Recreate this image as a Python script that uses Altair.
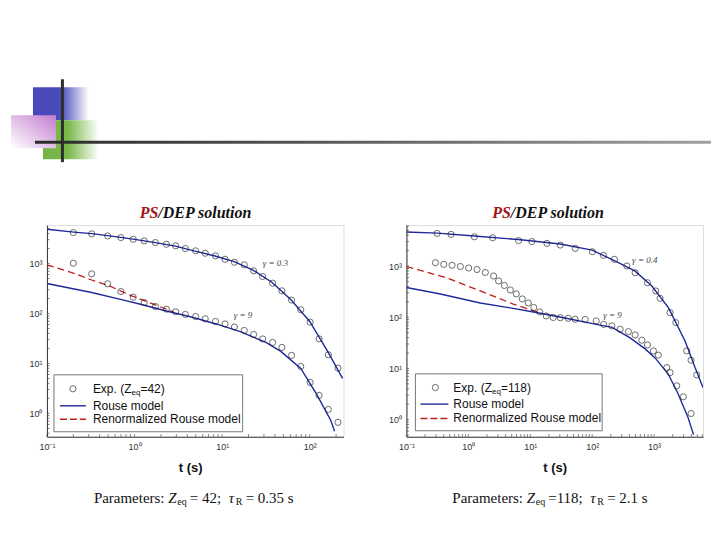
import math
import altair as alt
import pandas as pd

# ---------------- LEFT PANEL (Z_eq = 42) ----------------
L_exp_up_t = [0.2, 0.324, 0.493, 0.698, 0.966, 1.29, 1.73, 2.31, 2.95, 3.80, 4.98, 6.41, 8.40, 10.8,
              13.8, 17.9, 22.9, 29.0, 37.7, 48.1, 62.0, 79.0, 101, 128, 163, 210]
L_exp_up_G = [4170, 3930, 3580, 3311, 3062, 2844, 2630, 2432, 2259, 1995, 1795, 1607, 1426, 1219,
              1062, 942, 714, 550, 404, 284, 185, 119, 67, 31, 14.9, 8.05]
L_exp_lo_t = [0.2, 0.324, 0.493, 0.698, 0.966, 1.29, 1.73, 2.31, 2.95, 3.80, 4.98, 6.41, 8.40, 10.8,
              13.8, 17.9, 22.9, 29.0, 37.7, 48.1, 62.0, 79.0, 101, 128, 163, 210]
L_exp_lo_G = [1014, 622, 393, 275, 212, 166, 138, 122, 108, 95.5, 87, 78.3, 69.2, 61.7,
              53.7, 45.7, 38, 30.9, 26.3, 20.9, 14.5, 8.7, 4.17, 2.29, 1.2, 0.66]
L_rouse_up_t = [0.1, 0.2026, 0.324, 0.493, 0.966, 1.73, 2.93, 4.9, 8.3, 13.7, 22.5, 37.2, 60.7, 100, 160, 237]
L_rouse_up_G = [4853, 4266, 3981, 3631, 3090, 2630, 2239, 1778, 1413, 1096, 741, 417, 191, 69.2, 17.4, 5.0]
L_rouse_lo_t = [0.1, 0.324, 0.711, 1.20, 2.31, 4.45, 8.55, 16.4, 31.6, 46.8, 79, 120, 174, 192]
L_rouse_lo_G = [398, 263, 190, 151, 112, 85.1, 61.7, 42.7, 26.3, 17.4, 7.94, 2.4, 0.72, 0.44]
L_renorm_t = [0.1, 0.192, 0.324, 0.506, 0.923, 1.56, 2.78]
L_renorm_G = [942, 661, 468, 363, 226, 159, 108]

# ---------------- RIGHT PANEL (Z_eq = 118) ----------------
R_exp_up_t = [0.313, 0.526, 1.25, 2.47, 6.47, 10.6, 18.6, 30.5, 53.2, 101, 152, 229, 363, 494, 780,
              1064, 1250, 1811, 2239, 3367, 3954, 4887]
R_exp_up_G = [4335, 4150, 3724, 3562, 3141, 3006, 2768, 2566, 2212, 1901, 1618, 1352, 1000, 740, 472,
              326, 234, 123, 78.5, 22, 14.5, 7.5]
R_exp_lo_t = [0.294, 0.400, 0.546, 0.743, 1.01, 1.38, 1.88, 2.56, 3.08, 3.81, 4.76, 5.94, 7.43, 9.29,
              11.4, 14.2, 18.1, 23.5, 30.5, 41, 53.2, 77.1, 116, 153, 208, 283, 385, 494, 634, 780,
              975, 1172, 1603, 1811, 2323, 2970, 3954]
R_exp_lo_G = [1160, 1079, 1032, 978, 914, 855, 747, 638, 511, 417, 341, 285, 228, 190,
              155, 127, 106, 99, 98, 95.5, 91.4, 90.6, 84.7, 72.4, 67.7, 58.3, 52.4, 45.2, 35.6, 28.8,
              22, 18.2, 10.4, 8.3, 4.58, 2.8, 1.32]
R_rouse_up_t = [0.1, 0.316, 1.25, 6.4, 30.5, 100, 265, 494, 918, 1702, 3162, 4583, 6166]
R_rouse_up_G = [4605, 4395, 3847, 3289, 2685, 2051, 1160, 795, 407, 154, 34.5, 10.4, 4.25]
R_rouse_lo_t = [0.1, 0.353, 1.56, 4.76, 12.5, 38.1, 116, 210, 410, 716, 1038, 1683, 2438, 3532, 4335]
R_rouse_lo_G = [381, 284, 190, 152, 124, 95.7, 72.4, 63.3, 39.4, 24.1, 16.1, 7.86, 3.2, 1.1, 0.51]
R_renorm_t = [0.1, 0.458, 1.56, 5.32, 14.5]
R_renorm_G = [978, 583, 326, 181, 121]

# axis ticks / labels
L_xticks = [0.1, 1, 10, 100]
L_xlabels = ["10⁻¹", "10⁰", "10¹", "10²"]
R_xticks = [0.1, 1, 10, 100, 1000]
R_xlabels = ["10⁻¹", "10⁰", "10¹", "10²", "10³"]
yticks = [1, 10, 100, 1000]
ylabels = ["10⁰", "10¹", "10²", "10³"]

BLUE = "#1f2a9c"
RED = "#c01f1f"
SANS = "Liberation Sans"
SERIF = "Liberation Serif"
ONE = pd.DataFrame({"k": [0]})


def label_expr(ticks, labels):
    s = ""
    for v, lab in zip(ticks, labels):
        s += f"datum.value < {v * 3} ? '{lab}' : "
    return s + "''"


def minor_vals(lo, hi):
    out = []
    for d in range(math.floor(math.log10(lo)) - 1, math.ceil(math.log10(hi)) + 1):
        for k in range(1, 10):
            v = k * 10 ** d
            if lo * 0.999 <= v <= hi * 1.001:
                out.append((v, k == 1))
    return out


def txt(x, y, s, size, font=SANS, color="#111", style="normal", weight="normal", align="left"):
    return alt.Chart(ONE).mark_text(text=s, fontSize=size, font=font, color=color, fontStyle=style,
                                    fontWeight=weight, align=align, baseline="middle").encode(
        x=alt.value(x), y=alt.value(y))


def rect(x, x2, y, y2, fill, stroke=None):
    kw = dict(fill=fill)
    if stroke:
        kw.update(stroke=stroke, strokeWidth=1)
    else:
        kw.update(strokeWidth=0)
    return alt.Chart(ONE).mark_rect(**kw).encode(x=alt.value(x), x2=alt.value(x2), y=alt.value(y), y2=alt.value(y2))


def grad(stops, x1, y1, x2, y2):
    return alt.LinearGradient(gradient="linear",
                              stops=[alt.GradientStop(offset=o, color=c) for o, c in stops],
                              x1=x1, y1=y1, x2=x2, y2=y2)


def lines_df(sets):
    rows = []
    for name, ts, gs in sets:
        for t, g in zip(ts, gs):
            rows.append({"t": t, "G": g, "branch": name})
    return pd.DataFrame(rows)


def panel(W, H, xdom, ydom, xt, xl, exp_sets, rouse_sets, renorm, gam, leg, zval, params, tlab_x, deco=False):
    xs = alt.Scale(type="log", domain=xdom, nice=False)
    ys = alt.Scale(type="log", domain=ydom, nice=False)
    xax = alt.Axis(values=xt, labelExpr=label_expr(xt, xl), ticks=False, grid=False, title=None,
                   labelFont=SANS, labelFontSize=9, labelColor="#333", domainColor="#333",
                   labelPadding=6, labelFlush=False)
    yax = alt.Axis(values=yticks, labelExpr=label_expr(yticks, ylabels), ticks=False, grid=False,
                   title=None, labelFont=SANS, labelFontSize=9, labelColor="#333", domainColor="#333",
                   labelPadding=5)
    X = alt.X("t:Q", scale=xs, axis=xax)
    Y = alt.Y("G:Q", scale=ys, axis=yax)

    layers = []
    if deco:
        layers += [
            rect(-14, 42, -138, -105, grad([(0, "#4848b8"), (0.5, "#4a4cbc"), (1, "#ffffff")], 0, 0, 1, 0)),
            rect(-4, 52, -105, -66, grad([(0, "#74b446"), (0.45, "#7ab84c"), (1, "#ffffff")], 0, 0, 1, 0)),
            rect(-36, 9, -110, -77, grad([(0, "#ffffff"), (1, "#c27ccf")], 0, 1, 1, 0)),
            rect(14, 17, -146, -63, "#2d2d2d"),
            rect(-12, 665, -84.5, -81.5, grad([(0, "#2a2a2a"), (0.4, "#555555"), (1, "#a0a0a0")], 0, 0, 1, 0)),
        ]

    # minor / major ticks (inside)
    xm = pd.DataFrame([{"t": v, "maj": m} for v, m in minor_vals(*xdom)])
    ym = pd.DataFrame([{"G": v, "maj": m} for v, m in minor_vals(*ydom)])
    layers.append(alt.Chart(xm).mark_rule(color="#555", strokeWidth=0.8).encode(
        x=X, y=alt.value(H), y2=alt.value(H - 2.5)))
    layers.append(alt.Chart(ym).mark_rule(color="#555", strokeWidth=0.8).encode(
        y=Y, x=alt.value(0), x2=alt.value(2.5)))

    layers.append(alt.Chart(lines_df([("r", renorm[0], renorm[1])])).mark_line(
        color=RED, strokeWidth=1.3, strokeDash=[7, 4], clip=True).encode(x=X, y=Y))
    layers.append(alt.Chart(lines_df(rouse_sets)).mark_line(
        color=BLUE, strokeWidth=1.4, clip=True).encode(x=X, y=Y, detail="branch:N"))
    layers.append(alt.Chart(lines_df(exp_sets)).mark_point(
        shape="circle", filled=False, size=38, color="#1a1a1a", strokeWidth=0.9, clip=True).encode(x=X, y=Y))

    # gamma labels
    for (gx, gy, gs) in gam:
        layers.append(txt(gx, gy, gs, 9, font=SERIF, color="#444", style="italic"))

    # legend (manual)
    lx, ly, lx2, ly2, sx, lnx1, lnx2, tx, r1, r2, r3 = leg
    layers.append(rect(lx, lx2, ly, ly2, "#ffffff", stroke="#777"))
    layers.append(alt.Chart(ONE).mark_point(shape="circle", filled=False, size=38, color="#1a1a1a",
                                            strokeWidth=0.9).encode(x=alt.value(sx), y=alt.value(r1)))
    layers.append(alt.Chart(ONE).mark_rule(color=BLUE, strokeWidth=1.4).encode(
        x=alt.value(lnx1), x2=alt.value(lnx2), y=alt.value(r2)))
    layers.append(alt.Chart(ONE).mark_rule(color=RED, strokeWidth=1.4, strokeDash=[7, 3]).encode(
        x=alt.value(lnx1), x2=alt.value(lnx2), y=alt.value(r3)))
    layers.append(txt(tx, r1, "Exp. (Z", 12))
    layers.append(txt(tx + 38.7, r1 + 4, "eq", 8))
    layers.append(txt(tx + 47.6, r1, "=" + zval + ")", 12))
    layers.append(txt(tx, r2, "Rouse model", 12))
    layers.append(txt(tx, r3, "Renormalized Rouse model", 12))

    # title
    layers.append(txt(params["title_split"], -12, "PS", 16, font=SERIF, color="#a31414", style="italic",
                      weight="bold", align="right"))
    layers.append(txt(params["title_split"], -12, "/DEP solution", 16, font=SERIF, color="#111",
                      style="italic", weight="bold"))
    # x axis title
    layers.append(txt(tlab_x, 243, "t (s)", 13, weight="bold", align="center"))

    # parameters line
    px, py = params["x"], 273
    layers += [
        txt(px, py, "Parameters:", 15, font=SERIF),
        txt(px + 74.5, py, "Z", 15, font=SERIF, style="italic"),
        txt(px + 83.5, py + 4, "eq", 10, font=SERIF),
        txt(px + 96, py, params["zeq"], 15, font=SERIF),
        txt(px + params["tau_dx"], py, "τ", 15, font=SERIF, style="italic"),
        txt(px + params["tau_dx"] + 7, py + 4, "R", 10, font=SERIF),
        txt(px + params["tau_dx"] + 17, py, params["tau"], 15, font=SERIF),
    ]

    return alt.layer(*layers).properties(width=W, height=H)


left = panel(
    297, 212, [0.1, 243], [0.34, 5900], L_xticks, L_xlabels,
    [("u", L_exp_up_t, L_exp_up_G), ("l", L_exp_lo_t, L_exp_lo_G)],
    [("u", L_rouse_up_t, L_rouse_up_G), ("l", L_rouse_lo_t, L_rouse_lo_G)],
    (L_renorm_t, L_renorm_G),
    [(216, 38, "γ = 0.3"), (187, 90, "γ = 9")],
    (7, 150, 196, 207, 26, 13, 39, 46, 164, 181, 194.5),
    "42",
    {"title_split": 111.5, "x": 47, "zeq": "= 42;", "tau_dx": 135, "tau": "= 0.35 s"},
    144, deco=True)

right = panel(
    297, 212, [0.1, 6166], [0.464, 6310], R_xticks, R_xlabels,
    [("u", R_exp_up_t, R_exp_up_G), ("l", R_exp_lo_t, R_exp_lo_G)],
    [("u", R_rouse_up_t, R_rouse_up_G), ("l", R_rouse_lo_t, R_rouse_lo_G)],
    (R_renorm_t, R_renorm_G),
    [(226, 35, "γ = 0.4"), (197, 90, "γ = 9")],
    (9, 149, 196, 206, 29, 14, 42, 47, 162.7, 179.3, 193.7),
    "118",
    {"title_split": 104.5, "x": 46, "zeq": "=118;", "tau_dx": 138, "tau": "= 2.1 s"},
    149)

chart = alt.hconcat(left, right, spacing=63, bounds="flush").properties(
    padding={"left": 2, "top": 70, "right": 0, "bottom": 4}
).configure_view(stroke="#9a9a9a", strokeWidth=1).configure(background="white")

chart.save("out.html", embed_options={"renderer": "svg", "actions": False})
